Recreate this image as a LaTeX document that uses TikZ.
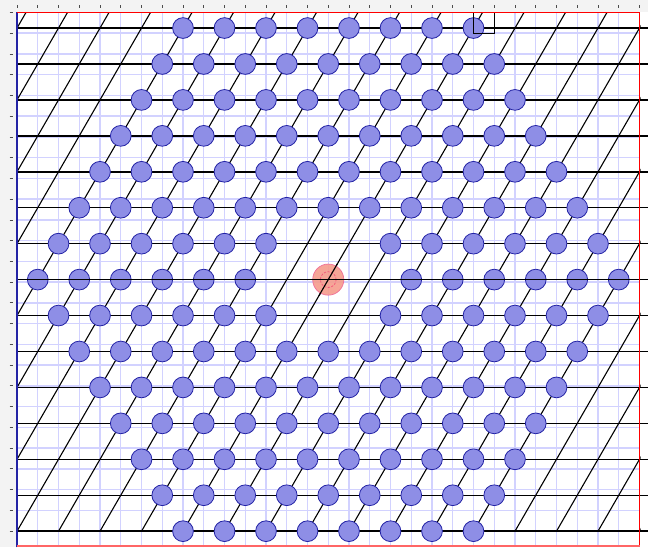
\documentclass[tikz,border=0pt]{standalone}
\usepackage{tikz}
\usetikzlibrary{calc}
\definecolor{gridblue}{RGB}{210,210,255}
\definecolor{atomfill}{RGB}{142,142,230}
\definecolor{atomedge}{RGB}{35,35,165}
\definecolor{corefill}{RGB}{245,155,140}
\definecolor{coreedge}{RGB}{240,105,150}
\definecolor{marginfill}{RGB}{243,243,243}
\tikzset{
  atom/.style={circle,draw=atomedge,fill=atomfill,line width=1.1pt,minimum size=1cm,inner sep=0pt},
  coreatom/.style={circle,draw=coreedge,fill=corefill,line width=1pt,minimum size=1.5cm,inner sep=0pt},
  rowline/.style={black,line width=2pt},
  cellline/.style={black,line width=1.5pt},
  tickmark/.style={black!70,line width=1.2pt}
}
\begin{document}
\begin{tikzpicture}[x=1cm,y=1cm]
        \useasboundingbox (-0.82,-0.78) rectangle (30.41,25.6);
        \fill[marginfill] (-0.82,25) rectangle (30.41,25.6);
        \fill[marginfill] (-0.82,-0.78) rectangle (0,25.6);
        \draw[gridblue,line width=2pt] (0,-0.78) grid (30,25);
        \foreach \i in {0,...,30} \draw[tickmark] (\i,25.22) -- (\i,25.36);
        \foreach \j in {0,...,25} \draw[tickmark] (-0.36,\j) -- (-0.2,\j);
        \begin{scope}
        \clip (0,0) rectangle (30.05,25);
        \foreach \m in {-7,...,15} \draw[cellline] ({2*\m},0) -- ++(60:30);
        \end{scope}
        \foreach \j in {0,...,14} \draw[rowline] (0,{\j*sqrt(3)}) -- (30.41,{\j*sqrt(3)});
        \foreach \j in {0,...,14} {
          \pgfmathtruncatemacro{\d}{abs(\j-7)}
          \pgfmathtruncatemacro{\xa}{1+\d}
          \pgfmathtruncatemacro{\xb}{3+\d}
          \pgfmathtruncatemacro{\xe}{29-\d}
          \foreach \i in {\xa,\xb,...,\xe} {
            \pgfmathtruncatemacro{\vac}{(abs(\j-7)<=1)&&(abs(\i-15)<=2)}
            \ifnum\vac=0 \node[atom] (a-\i-\j) at (\i,{\j*sqrt(3)}) {}; \fi
          }
        }
        \node[coreatom,opacity=0.9] (core) at (15,{7*sqrt(3)}) {};
        \draw[coreedge!80!red,densely dashed,line width=1pt] (core.center) circle (0.38);
        \draw[rowline] (0,{7*sqrt(3)}) -- (30.41,{7*sqrt(3)});
        \draw[cellline] ($(core.center)+(240:0.9)$) -- ($(core.center)+(60:0.9)$);
        \draw[black,line width=1.5pt] (22,24) rectangle (23,25);
        \draw[atomedge,line width=2pt] (0,-0.78) -- (0,25);
        \draw[red,line width=2pt] (0,25) -- (30,25) -- (30,-0.78);
        \draw[red!60,line width=2pt] (0,-0.72) -- (30,-0.72);
    \end{tikzpicture}
\end{document}
